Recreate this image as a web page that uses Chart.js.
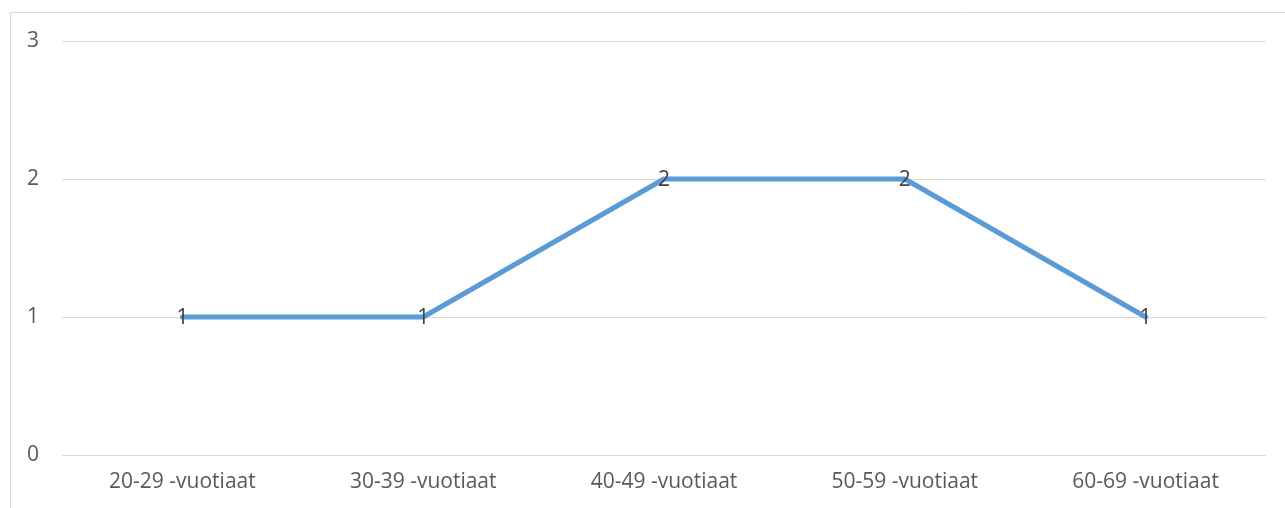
<!DOCTYPE html>
<html>
<head>
<meta charset="utf-8">
<script src="https://cdn.jsdelivr.net/npm/chart.js@4.4.0/dist/chart.umd.min.js"></script>
<style>
  html, body { margin: 0; padding: 0; background: #ffffff; }
  #wrap { width: 1285px; height: 508px; position: relative; }
</style>
</head>
<body>
<div id="wrap"><canvas id="c" width="1285" height="508"></canvas></div>
<script>
const categories = ["20-29 -vuotiaat", "30-39 -vuotiaat", "40-49 -vuotiaat", "50-59 -vuotiaat", "60-69 -vuotiaat"];
const values = [1, 1, 2, 2, 1];
const yTicks = [0, 1, 2, 3];

const FONT = "'Open Sans', 'Noto Sans', sans-serif";
const FSIZE = 21;

const framePlugin = {
  id: 'frame',
  beforeDraw(chart) {
    const ctx = chart.ctx;
    ctx.save();
    ctx.strokeStyle = '#D9D9D9';
    ctx.lineWidth = 1;
    ctx.beginPath();
    ctx.moveTo(10.5, 508);
    ctx.lineTo(10.5, 12.5);
    ctx.lineTo(1285, 12.5);
    ctx.stroke();
    ctx.restore();
  }
};

const labelPlugin = {
  id: 'pointLabels',
  afterDatasetsDraw(chart) {
    const ctx = chart.ctx;
    const meta = chart.getDatasetMeta(0);
    ctx.save();
    ctx.fillStyle = '#404040';
    ctx.font = FSIZE + 'px ' + FONT;
    ctx.textAlign = 'center';
    ctx.textBaseline = 'middle';
    meta.data.forEach((pt, i) => {
      ctx.fillText(String(chart.data.datasets[0].data[i]), pt.x, pt.y + 1);
    });
    ctx.restore();
  }
};

new Chart(document.getElementById('c'), {
  type: 'line',
  data: {
    labels: categories,
    datasets: [{
      data: values,
      borderColor: '#5B9BD5',
      borderWidth: 5,
      pointRadius: 0,
      pointHoverRadius: 0,
      tension: 0,
      fill: false,
      borderCapStyle: 'round',
      borderJoinStyle: 'round'
    }]
  },
  options: {
    responsive: false,
    animation: false,
    events: [],
    layout: { padding: { left: 0, right: 19, top: 41, bottom: 0 } },
    plugins: { legend: { display: false }, tooltip: { enabled: false } },
    scales: {
      x: {
        offset: true,
        grid: { display: false, drawTicks: false },
        border: { display: false },
        ticks: { color: '#595959', font: { family: FONT, size: FSIZE }, padding: 14, maxRotation: 0, autoSkip: false },
        afterFit(scale) { scale.height = 53; }
      },
      y: {
        min: yTicks[0],
        max: yTicks[yTicks.length - 1],
        afterBuildTicks(scale) { scale.ticks = yTicks.map(v => ({ value: v })); },
        grid: { color: '#D9D9D9', lineWidth: 1, drawTicks: false },
        border: { display: false },
        ticks: { color: '#595959', font: { family: FONT, size: FSIZE }, padding: 23 },
        afterFit(scale) { scale.width = 62; }
      }
    }
  },
  plugins: [framePlugin, labelPlugin]
});
</script>
</body>
</html>
